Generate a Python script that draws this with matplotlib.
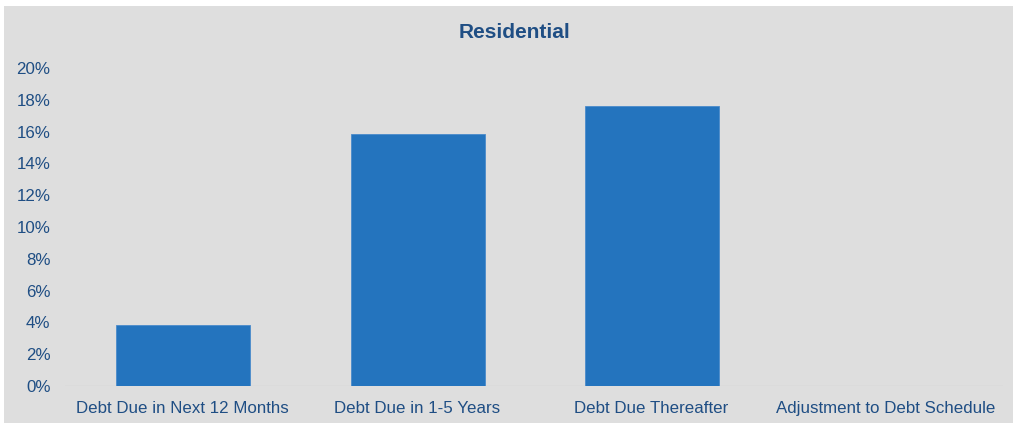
import matplotlib
matplotlib.use("Agg")
import matplotlib.pyplot as plt
from matplotlib.patches import Rectangle
from matplotlib.ticker import FuncFormatter

categories = ["Debt Due in Next 12 Months", "Debt Due in 1-5 Years",
              "Debt Due Thereafter", "Adjustment to Debt Schedule"]
values = [3.85, 15.85, 17.6, 0.0]
yticks = [0, 2, 4, 6, 8, 10, 12, 14, 16, 18, 20]
title = "Residential"

plt.rcParams['font.family'] = ['Liberation Sans', 'DejaVu Sans']
text_color = '#1F4E84'
bg = '#DEDEDE'

fig = plt.figure(figsize=(10.13, 4.25), dpi=100)
fig.patch.set_facecolor('white')
fig.patches.append(Rectangle((4/1013, 2/425), 1 - 4/1013, 1 - 8/425,
                             transform=fig.transFigure, facecolor=bg,
                             edgecolor='none', zorder=-10))

ax = fig.add_axes([65/1013, 1 - 386/425, (1003 - 65)/1013, (386 - 68)/425])
ax.set_zorder(1)
ax.set_facecolor('none')
x = range(len(categories))
ax.bar([i + 0.004 for i in x], values, width=0.57, color='#2474BE',
       edgecolor='#4A8BCB', linewidth=0.6, zorder=3)
ax.axhline(0, color='#D2D2D2', linewidth=1.0, zorder=2)
ax.set_xlim(-0.5, len(categories) - 0.5)
ax.set_ylim(0, 20)
ax.set_yticks(yticks)
ax.yaxis.set_major_formatter(FuncFormatter(lambda v, p: f"{int(v)}%"))
ax.set_xticks(list(x))
ax.set_xticklabels(categories)
ax.tick_params(axis='both', length=0, labelsize=12.2, colors=text_color)
ax.tick_params(axis='y', pad=10.5)
ax.tick_params(axis='x', pad=11)
for s in ax.spines.values():
    s.set_visible(False)

fig.text(514/1013, 1 - 33/425, title, ha='center', va='center',
         fontsize=15, fontweight='bold', color=text_color, zorder=5)

fig.savefig("out.png", dpi=100, facecolor=fig.get_facecolor())
